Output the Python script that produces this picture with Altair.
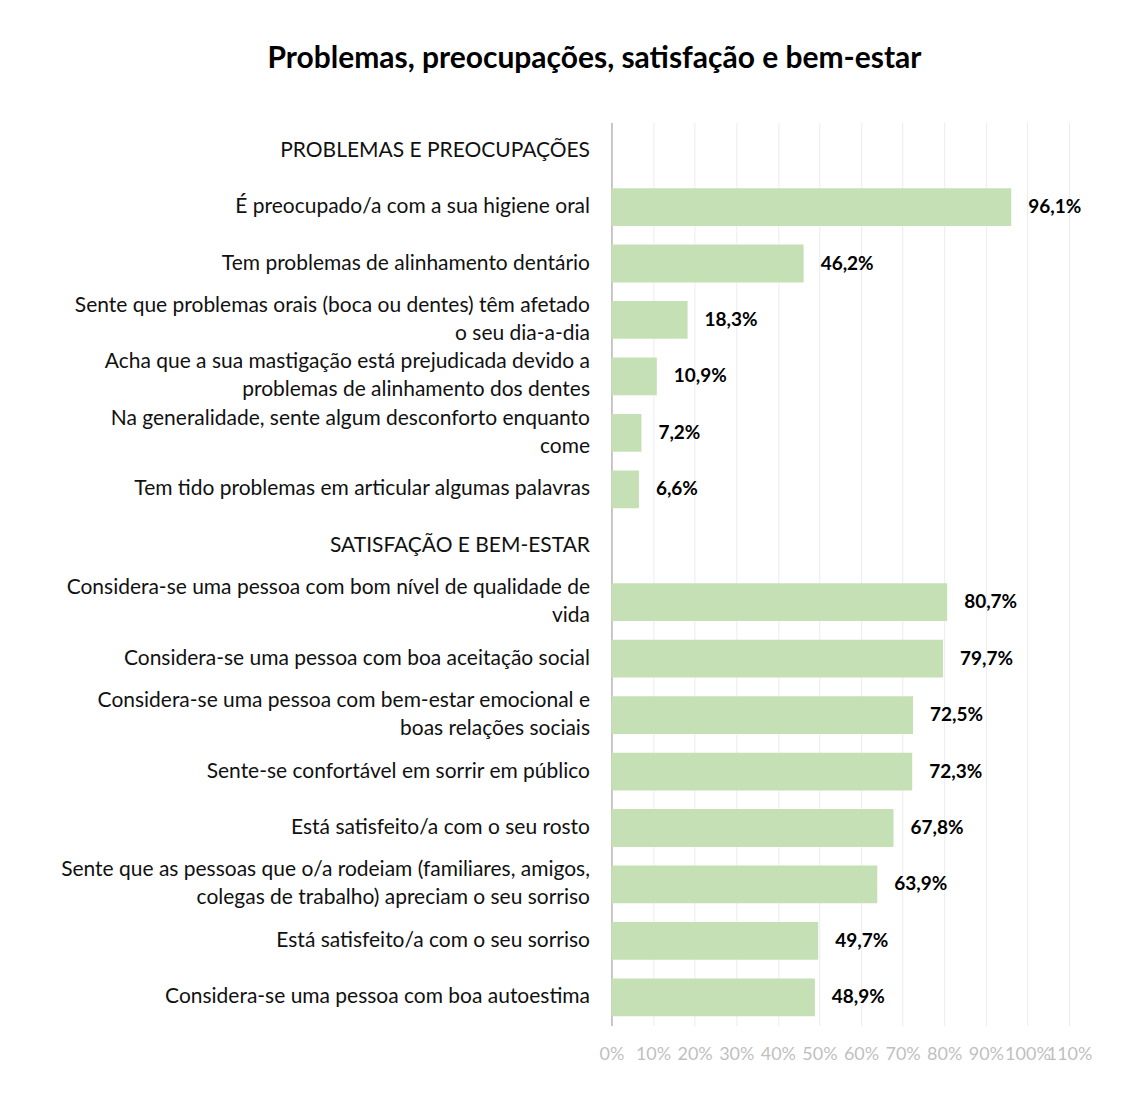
import altair as alt
import pandas as pd

categories = [
    "PROBLEMAS E PREOCUPAÇÕES",
    "É preocupado/a com a sua higiene oral",
    "Tem problemas de alinhamento dentário",
    "Sente que problemas orais (boca ou dentes) têm afetado|o seu dia-a-dia",
    "Acha que a sua mastigação está prejudicada devido a|problemas de alinhamento dos dentes",
    "Na generalidade, sente algum desconforto enquanto|come",
    "Tem tido problemas em articular algumas palavras",
    "SATISFAÇÃO E BEM-ESTAR",
    "Considera-se uma pessoa com bom nível de qualidade de|vida",
    "Considera-se uma pessoa com boa aceitação social",
    "Considera-se uma pessoa com bem-estar emocional e|boas relações sociais",
    "Sente-se confortável em sorrir em público",
    "Está satisfeito/a com o seu rosto",
    "Sente que as pessoas que o/a rodeiam (familiares, amigos,|colegas de trabalho) apreciam o seu sorriso",
    "Está satisfeito/a com o seu sorriso",
    "Considera-se uma pessoa com boa autoestima",
]
values = [None, 96.1, 46.2, 18.3, 10.9, 7.2, 6.6,
          None, 80.7, 79.7, 72.5, 72.3, 67.8, 63.9, 49.7, 48.9]

df = pd.DataFrame({"cat": categories, "v": values})

FONT = "Lato"

y_enc = alt.Y(
    "cat:N",
    sort=categories,
    title=None,
    scale=alt.Scale(domain=categories, paddingInner=0.33, paddingOuter=0.165),
    axis=alt.Axis(
        labelExpr="split(datum.label, '|')",
        labelLimit=0,
        labelPadding=22,
        labelFont=FONT,
        labelFontSize=21,
        labelColor="#111111",
        labelLineHeight=28,
        labelAlign="right",
        labelOffset=alt.ExprRef(
            expr="indexof(datum.label, '|') >= 0 ? -14 : 0"
        ),
        ticks=False,
        domainColor="#9a9a9a",
        domainWidth=1,
        grid=False,
    ),
)

x_enc = alt.X(
    "v:Q",
    title=None,
    scale=alt.Scale(domain=[0, 110], nice=False),
    axis=alt.Axis(
        values=list(range(0, 111, 10)),
        labelExpr="datum.value + '%'",
        labelFont=FONT,
        labelFontSize=18,
        labelColor="#bfbfbf",
        labelPadding=20,
        labelOverlap=False,
        labelFlush=False,
        ticks=False,
        domain=False,
        grid=True,
        gridColor="#ececec",
        gridWidth=1,
    ),
)

base = alt.Chart(df).encode(y=y_enc)

bars = base.mark_bar(color="#c5e0b4").encode(x=x_enc).transform_filter(
    "isValid(datum.v)"
)

labels = (
    base.transform_filter("isValid(datum.v)")
    .transform_calculate(lab="replace(format(datum.v, '.1f'), '.', ',') + '%'")
    .mark_text(align="left", baseline="middle", dx=17, font=FONT,
               fontSize=19, fontWeight="bold", color="#000000")
    .encode(x=alt.X("v:Q"), text="lab:N")
)

chart = (
    alt.layer(bars, labels)
    .properties(
        width=458,
        height=904,
        autosize=alt.AutoSizeParams(type="none"),
        padding={"left": 604, "top": 114, "right": 50, "bottom": 70},
        title=alt.TitleParams(
            "Problemas, preocupações, satisfação e bem-estar",
            font=FONT,
            fontSize=30,
            fontWeight="bold",
            color="#000000",
            anchor="middle",
            frame="group",
            dx=-246,
            offset=18,
            baseline="bottom",
        ),
    )
    .configure(background="white")
    .configure_view(stroke=None)
)

chart.save("out.html", embed_options={"renderer": "svg", "actions": False})
